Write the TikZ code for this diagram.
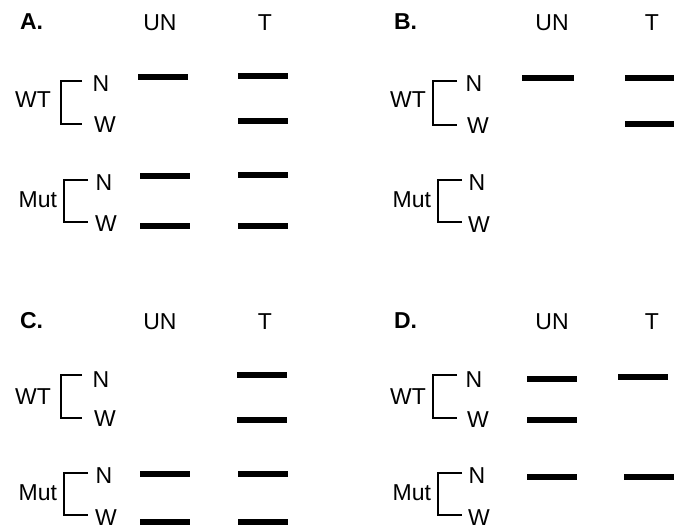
\documentclass[tikz,border=0pt]{standalone}
\usepackage{fontspec}
\setmainfont{Liberation Sans}
\begin{document}
\begin{tikzpicture}[x=1pt,y=1pt,
  lbl/.style={inner sep=0pt, outer sep=0pt, font=\fontsize{23}{25}\selectfont},
  ttl/.style={lbl, anchor=west, font=\fontsize{23}{25}\selectfont\bfseries},
  grp/.style={lbl, anchor=east},
  brk/.style={line width=2.4pt, line join=miter},
  band/.style={line width=6pt}]
\definecolor{fillColor}{RGB}{255,255,255}
\path[use as bounding box,fill=fillColor] (0,0) rectangle (674,530);

% panel A
\node[ttl] (ttlA) at ( 20,508) {A.};
\node[lbl] (unA) at (160,507) {UN};
\node[lbl] (trA) at (265,507) {T};
\node[grp] (wtA) at ( 51,430) {WT};
\node[lbl] (wtnA) at (101,446) {N};
\node[lbl] (wtwA) at (105,405) {W};
\draw[brk] ( 82,449) -| ( 61,406) -- ( 82,406);
\node[grp] (mutA) at ( 57,330) {Mut};
\node[lbl] (mutnA) at (104,347) {N};
\node[lbl] (mutwA) at (106,306) {W};
\draw[brk] ( 88,350) -| ( 64,308) -- ( 88,308);
\draw[band] (138,453) -- (188,453);
\draw[band] (238,454) -- (288,454);
\draw[band] (238,409) -- (288,409);
\draw[band] (140,354) -- (190,354);
\draw[band] (238,355) -- (288,355);
\draw[band] (140,304) -- (190,304);
\draw[band] (238,304) -- (288,304);

% panel B
\node[ttl] (ttlB) at (394,508) {B.};
\node[lbl] (unB) at (552,507) {UN};
\node[lbl] (trB) at (652,507) {T};
\node[grp] (wtB) at (426,430) {WT};
\node[lbl] (wtnB) at (474,446) {N};
\node[lbl] (wtwB) at (478,404) {W};
\draw[brk] (457,449) -| (433,405) -- (457,405);
\node[grp] (mutB) at (431,330) {Mut};
\node[lbl] (mutnB) at (477,347) {N};
\node[lbl] (mutwB) at (479,305) {W};
\draw[brk] (462,350) -| (438,308) -- (462,308);
\draw[band] (522,452) -- (574,452);
\draw[band] (625,452) -- (674,452);
\draw[band] (625,406) -- (674,406);

% panel C
\node[ttl] (ttlC) at ( 20,209) {C.};
\node[lbl] (unC) at (160,208) {UN};
\node[lbl] (trC) at (265,208) {T};
\node[grp] (wtC) at ( 51,133) {WT};
\node[lbl] (wtnC) at (101,150) {N};
\node[lbl] (wtwC) at (105,111) {W};
\draw[brk] ( 82,155) -| ( 61,112) -- ( 82,112);
\node[grp] (mutC) at ( 57, 37) {Mut};
\node[lbl] (mutnC) at (104, 54) {N};
\node[lbl] (mutwC) at (106, 12) {W};
\draw[brk] ( 88, 57) -| ( 64, 15) -- ( 88, 15);
\draw[band] (237,155) -- (287,155);
\draw[band] (237,110) -- (287,110);
\draw[band] (140, 56) -- (190, 56);
\draw[band] (238, 56) -- (288, 56);
\draw[band] (140,  8) -- (190,  8);
\draw[band] (238,  8) -- (288,  8);

% panel D
\node[ttl] (ttlD) at (394,209) {D.};
\node[lbl] (unD) at (552,208) {UN};
\node[lbl] (trD) at (652,208) {T};
\node[grp] (wtD) at (426,133) {WT};
\node[lbl] (wtnD) at (474,150) {N};
\node[lbl] (wtwD) at (478,110) {W};
\draw[brk] (457,155) -| (433,112) -- (457,112);
\node[grp] (mutD) at (431, 37) {Mut};
\node[lbl] (mutnD) at (477, 54) {N};
\node[lbl] (mutwD) at (479, 12) {W};
\draw[brk] (462, 57) -| (438, 15) -- (462, 15);
\draw[band] (527,151) -- (577,151);
\draw[band] (527,110) -- (577,110);
\draw[band] (618,153) -- (668,153);
\draw[band] (527, 53) -- (577, 53);
\draw[band] (624, 53) -- (674, 53);
\end{tikzpicture}
\end{document}
